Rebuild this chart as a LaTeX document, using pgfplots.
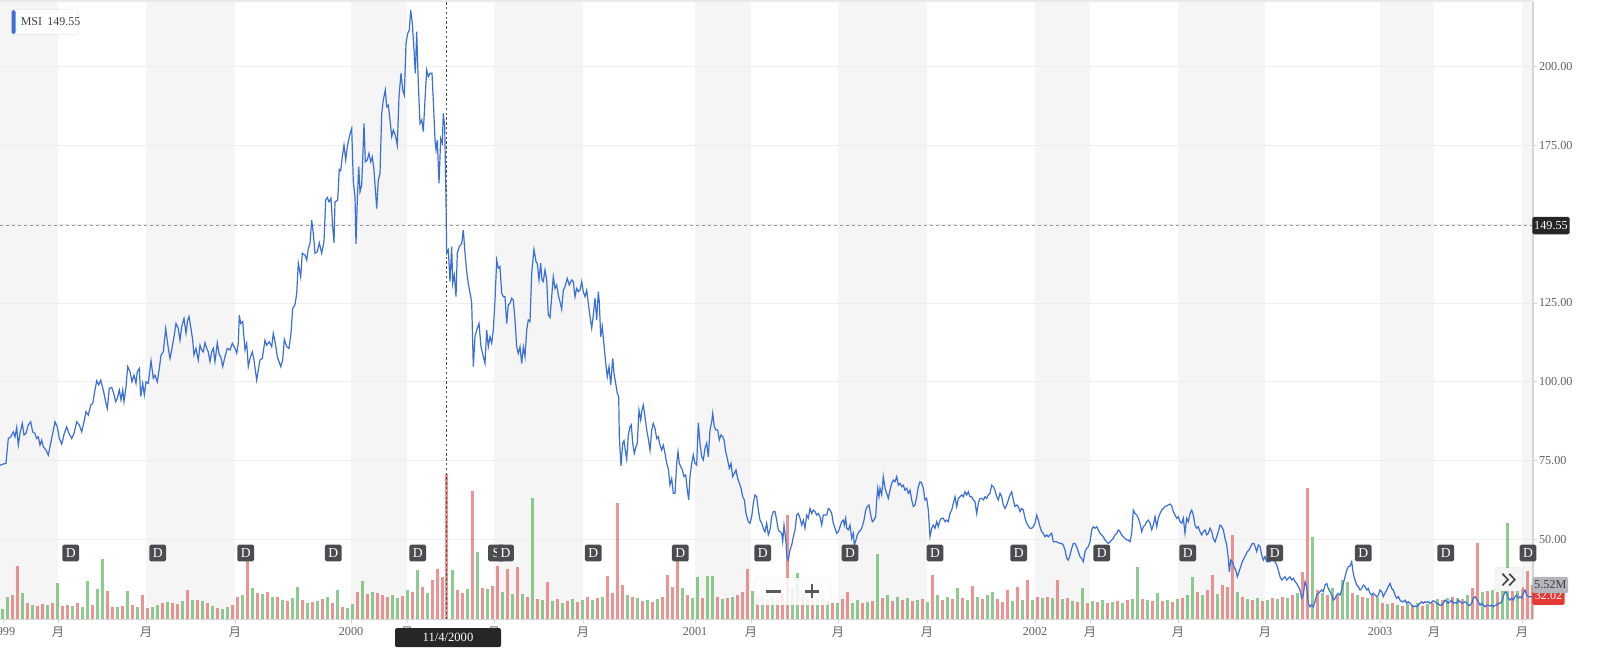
\documentclass[border=0pt]{standalone}
\usepackage{fontspec}
\setmainfont{Liberation Serif}
\newfontfamily\cjk{Noto Sans CJK SC}
\usepackage{pgfplots}
\usepackage{pgfplotstable}
\pgfplotsset{compat=1.18}

\definecolor{bandc}{RGB}{245,245,246}
\definecolor{gridc}{RGB}{238,238,238}
\definecolor{axisc}{RGB}{214,214,214}
\definecolor{labelc}{RGB}{96,96,96}
\definecolor{priceblue}{RGB}{59,111,214}
\definecolor{volred}{RGB}{229,112,112}
\definecolor{volgreen}{RGB}{104,185,108}
\definecolor{dboxc}{RGB}{74,76,80}
\definecolor{tipc}{RGB}{38,38,38}
\definecolor{volgray}{RGB}{180,182,190}
\definecolor{lastred}{RGB}{229,57,53}
\definecolor{ctrlc}{RGB}{90,90,90}

\newcommand\tk{\fontsize{6.1pt}{7.2pt}\selectfont}

% closing prices (session position, USD)
\pgfplotstableread{
x y
0 73.5
3.3 73.9
6 74.1
8.3 82.0
10.7 82.5
13.3 84.1
15 82.5
16.7 85.5
18.3 79.9
20 83.6
22.3 86.8
24 83.1
26 83.6
28.3 86.3
30.7 87.3
32.7 84.1
35 83.6
36.7 82.0
38.3 82.5
40 79.9
41.7 81.5
43.3 79.4
46 78.3
48.3 76.7
50 79.4
52.7 83.6
55 87.3
57.3 85.7
59.3 82.0
61.7 80.2
64.3 83.6
66.7 85.7
69 83.6
71.7 82.0
74 83.6
76.7 87.3
79.3 86.3
81.7 84.1
84 87.3
86 90.5
88.3 89.4
90.7 92.6
92.7 93.1
95 97.4
96.7 100.3
98.7 99.0
100.7 100.5
103.3 97.4
106 93.1
107.3 91.5
109.3 97.9
111.7 98.2
113.3 96.8
115.7 93.7
117.3 94.7
119.3 97.4
121 94.2
122.7 97.4
124 93.7
126 98.4
127.7 104.8
130 103.2
132 100.0
134 102.1
136 99.5
137.3 103.2
139.3 104.2
140.7 95.3
142.7 99.5
144.3 95.8
146 100.0
148.3 99.5
151 106.7
153.3 101.1
155 102.1
157.3 100.0
159.3 104.2
161 108.5
163.3 109.5
165.7 116.9
168.3 110.6
170 107.4
171.7 110.1
174 114.3
176 118.5
178.3 116.9
180 113.2
181.7 117.5
184 120.1
186 115.4
187.7 119.6
189 120.7
190.7 117.5
192.7 113.2
194 108.5
196 110.6
198.3 106.9
200 111.6
201.7 110.1
203.3 109.5
205 112.4
206.7 110.6
208.3 109.5
210 106.4
211.7 109.5
213.3 110.6
215 106.4
217.3 112.4
219.3 108.5
220.7 108.0
222.7 104.8
225 108.0
227.3 110.6
230 110.1
232.3 112.2
235 110.6
236.7 109.0
238.3 112.2
239.3 121.2
240.7 118.5
242.7 119.1
245 110.1
246.7 112.2
248.3 104.8
250 107.4
252.3 109.5
254 106.9
256.7 100.5
258.3 103.7
260 106.9
262.3 107.4
265 113.2
266.7 111.6
269.3 112.7
271.7 111.1
273.3 115.4
275.3 112.2
277.3 108.0
280.7 104.8
282.7 106.9
284.3 113.5
286.7 111.1
289 110.6
291 115.4
292.7 123.3
295 124.4
296.7 128.1
298.3 137.6
300.7 133.3
302.3 140.8
305 140.2
306.7 138.6
308.3 142.3
310 143.9
311.7 151.3
313.3 147.1
315 140.8
317.3 141.3
319.3 144.1
321.7 140.8
324 144.5
325.7 157.7
327.3 158.5
329 157.1
331 158.2
332.7 149.2
334 144.1
335 157.1
337.7 157.7
339.3 167.4
340.7 167.0
342.3 171.4
344 175.1
345.7 170.4
347.3 174.6
349.3 177.8
351.7 180.4
353.3 163.5
355 158.7
356 143.7
357.3 157.7
358.7 168.3
360 160.3
361.7 162.4
364 182.0
365.3 169.8
367.3 170.4
369 172.5
370.7 169.8
372.3 171.4
374 167.2
376.7 155.0
378.3 164.0
380 166.1
381.7 185.2
383.3 189.4
385.3 192.6
386.7 187.3
388.3 187.8
390 183.1
391.7 177.8
393.3 179.9
395.3 178.3
397.3 175.1
399 190.5
401 197.9
402.7 192.6
404.3 191.0
406 207.4
407.7 210.6
409.3 211.6
410.7 218.0
412.3 213.7
414 205.3
415.3 197.9
416.7 211.1
418.3 194.7
420 182.0
421.7 183.1
423.3 179.4
425 189.4
426.7 198.9
428.3 196.8
430 197.9
432 197.9
433.3 189.4
435 176.7
436 173.6
437.3 176.7
439 163.0
440.7 177.2
442.3 175.7
443.3 185.2
444.7 181.0
446 157.7
446.3 149.55
446.7 140.8
448.3 141.8
450 131.8
451.7 142.9
452.7 131.2
454.3 133.9
456 127.0
457.3 140.8
459.3 142.9
461.7 143.9
463.3 148.2
465 140.8
466.7 134.9
468.3 131.2
470.7 127.0
471.7 124.9
473.3 104.8
475 114.3
476.7 116.4
479 118.5
481 111.1
483.3 108.0
485 105.8
486.7 116.4
488.3 111.1
490 114.3
491.7 112.2
493.3 116.4
495 125.9
496.7 138.6
498.3 136.0
500 136.5
501.7 128.1
503.3 127.0
505 127.0
506.7 118.5
508.3 124.4
510 124.9
511.7 126.5
513.3 125.9
515 119.6
516.7 111.1
518.3 109.0
520 111.1
521.7 105.8
523.3 111.1
525 108.0
526.7 116.4
528.3 119.6
530 119.1
531.7 134.4
534 142.0
536 138.1
537.3 137.6
539 132.3
540.7 137.6
542 132.3
543.3 131.8
545 135.5
546.7 132.3
548.3 121.2
550 120.4
551.7 127.0
553.3 133.4
555 129.6
556.7 130.7
558.3 127.5
560 125.4
561.7 123.0
563.3 129.1
565 130.2
567.3 132.8
569.3 130.7
571.7 132.3
573.3 131.8
575 127.0
576.7 129.6
578.3 128.6
580 129.1
581.7 131.8
583.3 128.6
585 127.0
586.7 129.1
588.3 124.9
590 120.7
591.7 117.0
593.3 121.2
595 126.5
596.7 119.6
598.3 128.6
599.3 125.4
600.7 114.3
602.3 117.5
604 111.7
605.7 105.9
607.3 101.6
609 104.8
610.7 99.0
612.7 107.4
614 102.7
615.7 99.5
617.3 96.3
618.7 95.3
619.3 82.6
621 73.3
622.7 80.5
624 81.3
625.7 77.3
626.7 75.4
628.3 83.1
630 85.7
631.3 86.3
632.7 80.5
634.3 77.3
636 79.4
637.3 80.5
639 91.0
640.7 87.9
642 91.0
643.3 92.6
645 88.9
646.7 84.7
648.3 82.0
650 78.3
651.7 84.7
653.3 86.8
655 85.2
656.7 82.0
658.3 82.6
660 79.9
661.7 78.3
663.3 79.9
665 77.3
666.7 74.1
668.3 72.5
670 67.2
671.7 69.3
673.3 64.6
675 64.6
676.7 74.1
678 77.8
679.3 74.1
680.7 73.1
682.3 72.0
684 69.9
685.7 70.4
687.3 65.7
688.7 62.5
690 69.9
691.7 74.1
693.3 76.8
695 74.1
696.7 73.6
698.3 87.0
700 80.5
701.7 76.2
703.3 75.2
705 78.9
706.7 80.5
708.3 76.2
710 84.7
711.7 87.3
712.7 90.0
714.3 85.8
716 84.7
717.7 84.7
719.3 81.5
721 83.1
722.7 82.6
724 81.5
725.7 77.8
727.3 75.7
729.3 72.5
731 74.1
732.7 69.9
734.3 70.9
736 72.0
737.7 69.3
739.3 67.8
741 66.2
742.7 63.5
744.3 62.5
746 58.2
748.3 55.6
750 55.1
751.7 57.2
753.3 61.4
755 64.1
756.7 63.5
758.3 59.3
760 56.1
761.7 55.1
763.3 53.5
765 52.4
766.7 55.1
768.3 51.4
770 52.9
771.7 57.2
773.3 58.8
775 58.8
776.7 56.1
778.3 52.9
780 52.4
781.7 51.9
782.7 49.3
784 54.5
786 49.3
786.7 44.5
788.3 43.4
790 46.6
791.7 48.2
793.3 50.8
795 52.9
796.7 57.7
798.3 58.2
800 56.7
801.7 54.5
803.3 56.1
805 53.5
806.7 57.7
808.3 56.7
810 59.8
811.7 58.2
813.3 59.3
815 58.8
816.7 57.7
818.3 58.2
820 57.2
821.7 54.5
823.3 57.7
825 57.7
826.7 57.7
828.3 59.8
830 59.3
831.7 58.2
833.3 55.1
835 53.5
836.7 51.9
838.3 52.4
840 54.0
841.7 55.6
843.3 56.1
844.3 54.5
845.7 56.7
846.7 53.5
848.3 53.0
850 54.5
851.7 50.3
853.3 51.9
854.3 48.2
856 49.8
857.3 51.4
859 52.4
860.7 52.9
862.3 54.0
864 56.1
865.7 59.3
867.3 60.4
869 60.9
870.7 57.7
872.3 55.6
874 56.1
875.7 57.2
876.7 62.5
877.7 66.2
879 63.5
880 66.2
881.7 64.1
883.3 69.9
885 66.2
886.7 64.6
888.3 63.0
890 65.6
891.7 67.8
893.3 68.8
895 68.3
896.7 69.9
898.3 67.2
900 67.8
901.7 66.7
903.3 67.2
905 65.6
906.7 66.2
908.3 64.6
910 65.6
911.7 62.5
913.3 60.4
915 60.9
916.7 63.5
918.3 66.7
920 68.3
921.7 67.8
923.3 66.2
925 62.5
926.7 63.0
928.3 59.3
930 50.8
931.7 53.5
933.3 54.5
935 53.5
936.7 55.6
938.3 54.0
940 56.1
941.7 56.7
943.3 56.7
945 55.6
946.7 56.1
948.3 55.6
950 58.2
951.7 59.3
953.3 61.4
955 63.5
956.7 60.4
958.3 63.0
960 63.5
961.7 64.1
963.3 63.5
965 65.1
966.7 64.1
968.3 65.1
970 63.5
971.7 63.5
973.3 62.5
975 61.9
976.7 58.2
978.3 61.4
980 63.0
981.7 63.0
983.3 62.5
985 63.5
986.7 63.0
988.3 64.1
990 64.6
991.7 67.2
993.3 66.7
995 65.6
996.7 63.5
998.3 62.5
1000 64.6
1001.7 63.5
1003.3 60.9
1005 59.8
1006.7 60.9
1008.3 62.5
1010 64.1
1011.7 65.1
1013.3 62.5
1015 60.4
1016.7 60.9
1018.3 60.4
1020 58.8
1021.7 59.8
1023.3 59.3
1025 56.7
1026.7 55.1
1028.3 54.2
1030 53.5
1031.7 53.5
1033.3 54.0
1035 55.1
1036.7 57.7
1038.3 56.1
1040 54.0
1041.7 52.4
1043.3 51.9
1045 50.8
1046.7 51.4
1048.3 50.8
1050 51.4
1051.7 51.9
1053.3 49.2
1055 49.2
1056.7 49.2
1058.3 48.9
1060 48.7
1061.7 48.7
1063.3 48.2
1065 46.6
1066.7 44.0
1068.3 43.4
1070 45.0
1071.7 47.1
1073.3 48.7
1075 48.7
1076.7 47.6
1078.3 46.1
1080 44.5
1081.7 43.9
1083.3 42.9
1085 46.1
1086.7 47.1
1088.3 47.7
1090 49.2
1091.7 53.0
1093.3 54.0
1095 53.5
1096.7 54.0
1098.3 53.0
1100 51.9
1101.7 51.4
1103.3 50.8
1105 49.8
1106.7 49.2
1108.3 48.7
1110 49.2
1111.7 49.8
1113.3 50.3
1115 51.4
1116.7 51.9
1118.3 53.0
1120 52.4
1121.7 51.4
1123.3 50.8
1125 50.3
1126.7 49.8
1128.3 49.8
1130 49.2
1131.7 51.9
1133.3 59.3
1135 58.2
1136.7 57.7
1138.3 56.7
1140 55.1
1141.7 52.4
1143.3 54.0
1145 54.5
1146.7 55.6
1148.3 56.1
1150 55.1
1151.7 53.0
1153.3 54.5
1155 57.2
1156.7 54.0
1158.3 56.7
1160 58.2
1161.7 59.3
1163.3 59.8
1165 60.4
1166.7 60.6
1168.3 60.9
1170 61.2
1171.7 60.6
1173.3 58.8
1175 57.7
1176.7 56.7
1178.3 57.2
1180 55.6
1181.7 55.1
1183.3 56.7
1185 51.9
1186.7 56.7
1188.3 55.6
1190 58.2
1191.7 59.3
1193.3 57.7
1195 54.5
1196.7 53.5
1198.3 54.0
1200 52.4
1201.7 51.4
1203.3 52.4
1205 53.0
1206.7 51.4
1208.3 51.9
1210 53.5
1211.7 52.4
1213.3 50.3
1215 49.2
1216.7 50.8
1218.3 52.4
1220 54.5
1221.7 54.0
1223.3 53.0
1225 50.3
1226.7 48.2
1228.3 44.0
1229.3 39.7
1230.7 43.4
1232.3 42.9
1234 41.3
1235.7 40.2
1237.3 38.1
1239 39.7
1240.7 41.3
1242.3 42.9
1244 44.0
1245.7 45.0
1247.3 46.1
1249 46.6
1250.7 47.7
1252.3 48.7
1254 48.7
1255.7 47.1
1256.7 46.1
1258.3 48.2
1260 47.7
1261.7 45.0
1263.3 43.4
1265 44.5
1266.7 42.9
1268.3 42.9
1270 42.9
1271.7 44.0
1273.3 43.4
1275 42.9
1276.7 41.9
1278.3 40.2
1280 38.1
1281.7 37.1
1283.3 37.6
1285 38.1
1286.7 37.1
1288.3 37.6
1290 38.1
1291.7 37.1
1293.3 37.6
1295 36.6
1296.7 36.0
1298.3 35.0
1300 33.9
1301.7 31.3
1303.3 32.3
1305 36.6
1306.7 35.0
1308.3 29.7
1310 28.6
1311.7 29.2
1313.3 28.6
1315 30.2
1316.7 32.3
1318.3 32.8
1320 33.4
1321.7 33.9
1323.3 33.4
1325 35.5
1326.7 36.0
1328.3 34.4
1330 33.4
1331.7 32.3
1333.3 30.7
1335 31.2
1336.7 32.3
1338.3 32.8
1340 32.3
1341.7 33.9
1343.3 36.0
1345 38.1
1346.7 40.2
1348.3 41.3
1350 41.5
1351.7 42.9
1352.7 40.3
1354 38.1
1355 37.1
1356.7 35.5
1358.3 35.0
1360 33.9
1361.7 34.4
1363.3 35.5
1365 35.0
1366.7 33.9
1368.3 34.4
1370 32.9
1371.7 32.3
1373.3 32.9
1375 32.3
1376.7 31.8
1378.3 32.3
1380 33.9
1381.7 33.4
1383.3 31.8
1385 32.9
1386.7 33.9
1388.3 35.0
1390 36.0
1391.7 34.4
1393.3 33.9
1395 32.3
1396.7 31.3
1398.3 31.8
1400 30.7
1401.7 30.2
1403.3 30.2
1405 30.7
1406.7 29.7
1408.3 30.2
1410 29.7
1411.7 29.1
1413.3 28.6
1415 28.8
1416.7 28.6
1418.3 29.1
1420 29.7
1421.7 30.2
1423.3 29.7
1425 30.2
1426.7 30.0
1428.3 30.2
1430 29.7
1431.7 30.0
1433.3 30.5
1435 30.2
1436.7 29.7
1438.3 29.5
1440 29.1
1441.7 29.1
1443.3 29.7
1445 30.7
1446.7 30.2
1448.3 29.7
1450 30.2
1451.7 30.7
1453.3 29.7
1455 29.9
1456.7 29.7
1458.3 30.7
1460 30.2
1461.7 29.7
1463.3 29.9
1465 30.2
1466.7 29.7
1468.3 29.1
1470 29.1
1471.7 29.7
1473.3 31.3
1475 31.8
1476.7 31.0
1478.3 30.2
1480 29.1
1481.7 29.7
1483.3 29.1
1485 28.6
1486.7 29.1
1488.3 29.1
1490 28.8
1491.7 29.1
1493.3 28.6
1495 29.1
1496.7 29.1
1498.3 29.7
1500 29.7
1501.7 30.2
1503.3 31.8
1505 33.4
1506.7 32.9
1508.3 31.3
1510 30.7
1511.7 31.3
1513.3 30.7
1515 31.8
1516.7 32.3
1518.3 31.3
1520 31.8
1521.7 31.3
1523.3 32.9
1525 33.9
1526.7 32.3
1528.3 31.8
1530 31.8
1531.7 31.8
1533.3 32.02
}\pricedata

% volume on down sessions (millions of shares)
\pgfplotstableread{
x v
12.5 3.9
17.5 8.6
27.5 2.6
37.5 2.1
42.5 2.4
52.5 2.6
62.5 2.1
67.5 2.3
77.5 2.6
92.5 2.3
107.5 4.5
112.5 2.0
122.5 2.1
132.5 2.3
142.5 3.9
147.5 1.8
162.5 2.6
172.5 2.6
177.5 2.4
187.5 4.7
197.5 3.1
207.5 2.6
217.5 1.8
232.5 2.3
237.5 3.6
247.5 9.6
257.5 4.2
267.5 4.4
277.5 3.6
287.5 2.9
302.5 3.1
312.5 2.8
322.5 3.2
332.5 2.6
342.5 2.0
357.5 4.4
367.5 4.0
377.5 4.2
382.5 3.9
387.5 3.6
402.5 3.8
412.5 4.4
422.5 5.2
432.5 6.3
437.5 8.1
442.5 6.8
446.3 23.5
457.5 4.7
462.5 4.2
472.5 20.7
482.5 5.0
492.5 5.4
497.5 8.6
507.5 8.1
517.5 8.4
527.5 3.6
537.5 3.2
547.5 6.0
557.5 3.2
567.5 2.9
577.5 2.8
587.5 3.6
597.5 3.4
607.5 7.0
612.5 4.2
617.5 18.8
622.5 5.5
632.5 3.6
642.5 2.9
652.5 2.8
662.5 3.6
667.5 7.1
672.5 5.2
677.5 9.4
687.5 3.9
702.5 3.4
717.5 3.6
727.5 3.4
737.5 3.9
742.5 4.4
747.5 8.1
757.5 3.6
767.5 3.2
777.5 3.4
782.5 4.2
787.5 16.8
802.5 3.9
812.5 3.6
822.5 3.4
832.5 2.6
842.5 3.2
847.5 4.4
862.5 2.6
872.5 2.9
882.5 3.4
892.5 2.9
902.5 3.1
912.5 2.9
922.5 3.2
932.5 7.1
942.5 3.1
952.5 3.2
962.5 3.4
972.5 5.4
982.5 3.2
997.5 3.2
1002.5 2.8
1007.5 4.7
1017.5 5.2
1027.5 6.3
1037.5 3.6
1047.5 3.6
1057.5 6.3
1067.5 3.4
1077.5 2.8
1087.5 2.6
1097.5 2.8
1107.5 2.6
1117.5 2.9
1127.5 3.1
1142.5 3.2
1152.5 2.9
1162.5 2.9
1172.5 2.8
1182.5 3.4
1197.5 4.4
1207.5 4.7
1212.5 7.1
1222.5 5.5
1227.5 5.2
1232.5 13.6
1242.5 3.6
1252.5 3.1
1262.5 2.9
1272.5 3.4
1282.5 3.6
1292.5 3.9
1302.5 7.6
1307.5 21.2
1317.5 4.7
1327.5 3.9
1337.5 3.9
1352.5 4.2
1362.5 3.6
1372.5 3.9
1382.5 2.6
1392.5 2.6
1402.5 2.1
1412.5 2.3
1422.5 2.1
1432.5 2.6
1442.5 3.1
1452.5 3.6
1462.5 3.2
1472.5 5.0
1477.5 12.3
1487.5 4.5
1497.5 4.4
1512.5 5.0
1522.5 5.2
1527.5 7.8
1532.5 5.52
}\volred

% volume on up sessions (millions of shares)
\pgfplotstableread{
x v
2.5 1.6
7.5 3.6
22.5 4.2
32.5 2.3
47.5 2.3
57.5 5.8
72.5 2.1
82.5 2.0
87.5 6.2
97.5 4.9
102.5 9.7
117.5 1.9
127.5 4.5
137.5 1.9
152.5 1.9
157.5 2.3
167.5 2.8
182.5 2.9
192.5 3.1
202.5 2.9
212.5 2.1
222.5 1.6
227.5 1.9
242.5 3.9
252.5 5.0
262.5 4.0
272.5 3.6
282.5 3.1
292.5 3.4
297.5 5.2
307.5 2.6
317.5 2.9
327.5 3.6
337.5 4.7
347.5 1.8
352.5 2.4
362.5 6.2
372.5 4.4
392.5 3.9
397.5 3.4
407.5 4.7
417.5 7.9
427.5 4.2
452.5 7.9
467.5 4.9
477.5 10.9
487.5 4.9
502.5 4.4
512.5 4.0
522.5 4.0
532.5 19.6
542.5 3.1
552.5 2.9
562.5 2.6
572.5 3.2
582.5 3.1
592.5 3.1
602.5 3.6
627.5 3.9
637.5 3.4
647.5 3.1
657.5 3.2
682.5 5.0
692.5 3.4
697.5 6.8
707.5 7.0
712.5 7.0
722.5 3.2
732.5 3.6
752.5 4.5
762.5 3.9
772.5 3.6
792.5 5.0
797.5 7.5
807.5 3.4
817.5 3.2
827.5 2.9
837.5 2.6
852.5 2.6
857.5 3.1
867.5 2.8
877.5 10.5
887.5 3.9
897.5 3.6
907.5 3.4
917.5 3.1
927.5 2.8
937.5 3.9
947.5 3.6
957.5 5.0
967.5 3.1
977.5 3.6
987.5 3.9
992.5 4.4
1012.5 2.9
1022.5 3.1
1032.5 3.1
1042.5 3.4
1052.5 3.4
1062.5 3.2
1072.5 2.9
1082.5 5.0
1092.5 2.9
1102.5 3.1
1112.5 2.8
1122.5 2.6
1132.5 3.2
1137.5 8.4
1147.5 3.1
1157.5 4.2
1167.5 3.1
1177.5 3.2
1187.5 3.9
1192.5 6.8
1202.5 3.9
1217.5 4.0
1237.5 4.4
1247.5 3.2
1257.5 3.4
1267.5 3.1
1277.5 3.2
1287.5 3.4
1297.5 4.2
1312.5 13.3
1322.5 4.2
1332.5 5.0
1342.5 6.3
1347.5 6.0
1357.5 3.9
1367.5 3.4
1377.5 3.6
1387.5 2.4
1397.5 2.3
1407.5 2.4
1417.5 2.6
1427.5 2.4
1437.5 3.2
1447.5 3.4
1457.5 3.4
1467.5 3.9
1482.5 4.4
1492.5 4.7
1502.5 4.9
1507.5 15.6
1517.5 5.4
}\volgreen

% dividend flags
\pgfplotstableread{
x y
70.7 45.65
157.7 45.65
245.7 45.65
333.3 45.65
417.7 45.65
505.5 45.65
593.3 45.65
680.3 45.65
762.7 45.65
850 45.65
935 45.65
1018.7 45.65
1101.7 45.65
1187.7 45.65
1274.7 45.65
1363.3 45.65
1445.7 45.65
1528 45.65
}\divs

\pgfplotsset{
  chartframe/.style={
    at={(0pt,0pt)}, anchor=south west,
    width=766.5pt, height=309pt, scale only axis,
    xmin=0, xmax=1533,
  },
  flagstyle/.style={
    draw=none, mark=none, nodes near coords={#1},
    every node near coord/.append style={anchor=center, fill=dboxc, text=white,
      rounded corners=0.8pt, minimum width=8.4pt, minimum height=8.4pt,
      inner sep=0pt, font=\fontsize{6.8pt}{7.5pt}\selectfont},
  },
}

\begin{document}
\begin{tikzpicture}
% frame, shaded quarters, grid and ticks
\begin{axis}[chartframe,
  ymin=24.71, ymax=220.85,
  clip=false,
  axis line style={draw=none},
  xtick={3,58,146,235,351,407,494,583,695,751,838,927,1035,1090,1178,1265,1380,1434,1522},
  xticklabels={1999,{\cjk 月},{\cjk 月},{\cjk 月},2000,{\cjk 月},{\cjk 月},{\cjk 月},2001,{\cjk 月},{\cjk 月},{\cjk 月},2002,{\cjk 月},{\cjk 月},{\cjk 月},2003,{\cjk 月},{\cjk 月}},
  ytick={50,75,100,125,175,200},
  xtick pos=bottom, ytick pos=right, yticklabel pos=right,
  tick align=outside, major tick length=2pt,
  tick style={draw=axisc, line width=0.5pt},
  /pgf/number format/assume math mode=true,
  yticklabel style={font=\tk, text=labelc, anchor=west, inner sep=0.8pt,
    /pgf/number format/.cd, fixed, fixed zerofill, precision=2, 1000 sep={}},
  xticklabel style={font=\tk, text=labelc, inner sep=1.8pt},
]
\fill[bandc] (axis cs:0,24.71) rectangle (axis cs:58,220.85);
\fill[bandc] (axis cs:146,24.71) rectangle (axis cs:235,220.85);
\fill[bandc] (axis cs:351,24.71) rectangle (axis cs:407,220.85);
\fill[bandc] (axis cs:494,24.71) rectangle (axis cs:583,220.85);
\fill[bandc] (axis cs:695,24.71) rectangle (axis cs:751,220.85);
\fill[bandc] (axis cs:838,24.71) rectangle (axis cs:927,220.85);
\fill[bandc] (axis cs:1035,24.71) rectangle (axis cs:1090,220.85);
\fill[bandc] (axis cs:1178,24.71) rectangle (axis cs:1265,220.85);
\fill[bandc] (axis cs:1380,24.71) rectangle (axis cs:1434,220.85);
\fill[bandc] (axis cs:1522,24.71) rectangle (axis cs:1533,220.85);
\draw[gridc, line width=0.5pt] (axis cs:0,50) -- (axis cs:1533,50);
\draw[gridc, line width=0.5pt] (axis cs:0,75) -- (axis cs:1533,75);
\draw[gridc, line width=0.5pt] (axis cs:0,100) -- (axis cs:1533,100);
\draw[gridc, line width=0.5pt] (axis cs:0,125) -- (axis cs:1533,125);
\draw[gridc, line width=0.5pt] (axis cs:0,150) -- (axis cs:1533,150);
\draw[gridc, line width=0.5pt] (axis cs:0,175) -- (axis cs:1533,175);
\draw[gridc, line width=0.5pt] (axis cs:0,200) -- (axis cs:1533,200);
\draw[axisc, line width=0.5pt] (axis cs:0,24.71) -- (axis cs:1533,24.71);
\draw[axisc, line width=0.6pt] (axis cs:1533,24.71) -- (axis cs:1533,220.85);
\draw[gridc!80!axisc, line width=0.6pt] (axis cs:0,220.85) -- (axis cs:1533,220.85);
\end{axis}

% volume bars
\begin{axis}[chartframe, ymin=0, ymax=100.3, hide axis]
\addplot[ycomb, draw=volred, draw opacity=0.75, line width=1.5pt, mark=none] table[x=x, y=v] {\volred};
\addplot[ycomb, draw=volgreen, draw opacity=0.75, line width=1.5pt, mark=none] table[x=x, y=v] {\volgreen};
\coordinate (volpt) at (axis cs:1533,5.52);
\end{axis}

% price line, crosshair and flags
\begin{axis}[chartframe, ymin=24.71, ymax=220.85, hide axis, clip mode=individual]
\draw[gray!80, line width=0.5pt, dash pattern=on 1.6pt off 1.4pt] (axis cs:0,149.55) -- (axis cs:1533,149.55);
\draw[black!70, line width=0.4pt, dash pattern=on 1.2pt off 1.2pt] (axis cs:446.3,24.71) -- (axis cs:446.3,220.85);
\addplot[priceblue, line width=0.6pt, mark=none] table {\pricedata};
\addplot[flagstyle=S] coordinates {(496.5,45.65)};
\addplot[flagstyle=D] table {\divs};
\coordinate (cross) at (axis cs:1533,149.55);
\coordinate (lastpx) at (axis cs:1533,32.02);
\coordinate (dt) at (axis cs:448,24.71);
\end{axis}

% last-value and crosshair labels
\node[anchor=west, fill=lastred, text=white, rounded corners=0.8pt, inner xsep=1.2pt, inner ysep=0pt,
  minimum height=8.8pt, font=\tk, xshift=-0.5pt] at (lastpx) {32.02};
\node[anchor=west, fill=volgray, text=black!75, rounded corners=0.8pt, inner xsep=0.9pt, inner ysep=0pt,
  minimum height=8.2pt, font=\tk, xshift=-0.5pt] at (volpt) {5.52M};
\node[anchor=west, fill=tipc, text=white, rounded corners=0.8pt, inner xsep=0.9pt, inner ysep=0pt,
  minimum height=8.8pt, font=\tk, xshift=-0.5pt] at (cross) {149.55};
\node[fill=tipc, text=white, rounded corners=1pt, minimum width=53pt, minimum height=9.5pt,
  inner sep=0pt, font=\fontsize{6.3pt}{7.4pt}\selectfont] at ([yshift=-9.3pt]dt) {11/4/2000};

% legend chip
\fill[black, opacity=0.05, rounded corners=1.2pt] (5.4pt,291.9pt) rectangle (39.4pt,305.1pt);
\fill[white, rounded corners=1pt] (5.85pt,292.5pt) rectangle (38.85pt,304.5pt);
\fill[priceblue, rounded corners=0.8pt] (5.85pt,292.5pt) rectangle (7.75pt,304.5pt);
\node[anchor=west, inner sep=0pt, font=\fontsize{6pt}{7pt}\selectfont, text=black!75] at (10.2pt,298.5pt) {MSI\hspace{2.6pt}149.55};

% zoom control
\fill[black, opacity=0.04, rounded corners=1.5pt] (377pt,6.5pt) rectangle (415.5pt,21pt);
\fill[white, opacity=0.85, rounded corners=1.5pt] (377.5pt,7pt) rectangle (415pt,20.5pt);
\draw[ctrlc, line width=1.1pt] (382.8pt,13.8pt) -- (390.3pt,13.8pt);
\draw[ctrlc, line width=1.1pt] (402.5pt,13.8pt) -- (409.5pt,13.8pt);
\draw[ctrlc, line width=1.1pt] (406pt,10.3pt) -- (406pt,17.3pt);

% scroll button
\fill[black, opacity=0.05, rounded corners=1.5pt] (747pt,13.5pt) rectangle (761.5pt,26pt);
\fill[white!96!black, rounded corners=1.5pt] (747.5pt,14pt) rectangle (761pt,25.5pt);
\draw[black!72, line width=0.85pt] (751.2pt,22.6pt) -- (754pt,19.7pt) -- (751.2pt,16.8pt);
\draw[black!72, line width=0.85pt] (754.6pt,22.6pt) -- (757.4pt,19.7pt) -- (754.6pt,16.8pt);

\pgfresetboundingbox
\path[use as bounding box] (0pt,-17pt) rectangle (800pt,309.5pt);
\end{tikzpicture}
\end{document}
